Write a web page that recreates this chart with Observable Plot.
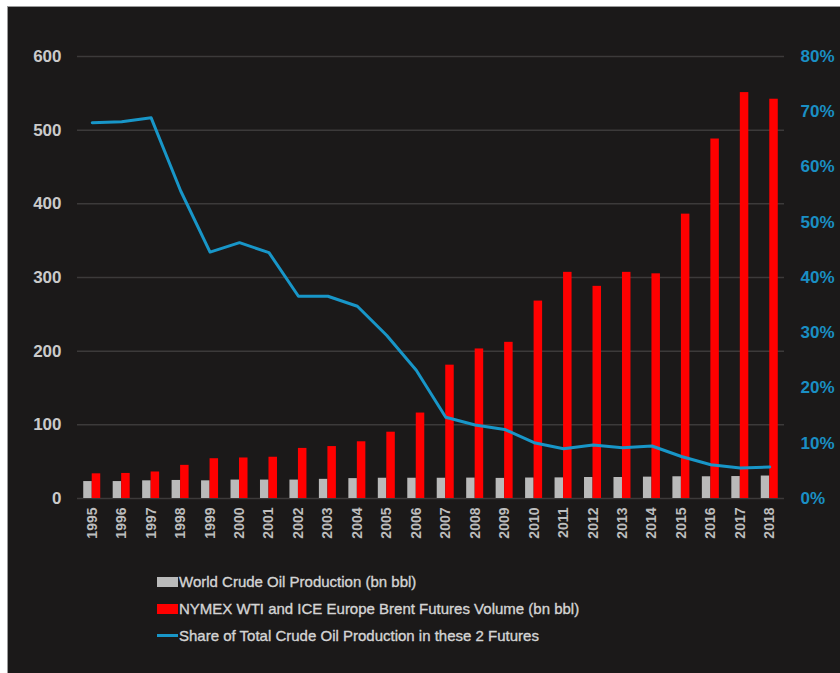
<!DOCTYPE html>
<html>
<head>
<meta charset="utf-8">
<script src="https://cdn.jsdelivr.net/npm/d3@7"></script>
<script src="https://cdn.jsdelivr.net/npm/@observablehq/plot@0.6"></script>
<style>
  html, body { margin: 0; padding: 0; background: #ffffff; width: 840px; height: 673px; overflow: hidden; }
  #frame { position: absolute; left: 7px; top: 6px; width: 833px; height: 667px; background: #1b1919;
           border-left: 1px solid #9a9a9a; border-top: 1px solid #9a9a9a; }
  #chart { position: absolute; left: 0; top: 0; }
  #legend { position: absolute; left: 149px; top: 561px; font-family: "Liberation Sans", Arial, sans-serif;
            font-size: 15px; color: #d4d4d4; -webkit-text-stroke: 0.35px #d4d4d4; }
  .row { height: 27px; display: flex; align-items: center; }
  .sw { width: 21px; margin-right: 1px; }
</style>
</head>
<body>
<div id="frame">
  <div id="chart"></div>
  <div id="legend"></div>
</div>
<script>
const years = ["1995","1996","1997","1998","1999","2000","2001","2002","2003","2004","2005","2006",
               "2007","2008","2009","2010","2011","2012","2013","2014","2015","2016","2017","2018"];
const production = [23, 23, 24, 24.5, 24, 25, 25, 25, 26, 27, 27.5, 27.5,
                    27.5, 27.7, 27.3, 27.8, 28, 28.5, 28.5, 29, 29.5, 29.5, 29.8, 30.5];
const futuresVolume = [33.5, 34, 36, 45, 54, 55, 56, 68, 70.5, 77, 90, 116,
                       181, 203, 212, 268, 307, 288, 307, 305, 386, 488, 551, 542];
const sharePct = [68.0, 68.2, 68.9, 55.7, 44.6, 46.3, 44.5, 36.6, 36.6, 34.8, 29.5, 23.2,
                  14.7, 13.3, 12.5, 10.1, 9.0, 9.7, 9.2, 9.5, 7.6, 6.1, 5.5, 5.7];
const leftTicks = [0, 100, 200, 300, 400, 500, 600];
const rightTicks = [0, 10, 20, 30, 40, 50, 60, 70, 80];
const seriesNames = ["World Crude Oil Production (bn bbl)",
                     "NYMEX WTI and ICE Europe Brent Futures Volume (bn bbl)",
                     "Share of Total Crude Oil Production in these 2 Futures"];
const seriesColors = ["#bababa", "#ff0000", "#1896c8"];

const leftMax = 600, rightMax = 80, k = leftMax / rightMax;
const rows = years.map((year, i) => ({year, production: production[i], futures: futuresVolume[i], share: sharePct[i]}));

const half = 707 / 24 / 2;
const barW = 8.5;

const chart = Plot.plot({
  width: 832,
  height: 545,
  marginLeft: 69,
  marginRight: 56,
  marginTop: 49,
  marginBottom: 54,
  style: {background: "transparent", color: "#c8c8c8", fontFamily: "'Liberation Sans', Arial, sans-serif", fontWeight: "bold"},
  x: {domain: years, padding: 0, round: false},
  y: {domain: [0, leftMax]},
  marks: [
    Plot.ruleY(leftTicks, {stroke: "#3c3a3a", strokeWidth: 1.5}),
    Plot.barY(rows, {x: "year", y: "production", fill: seriesColors[0], insetLeft: half - barW, insetRight: half}),
    Plot.barY(rows, {x: "year", y: "futures", fill: seriesColors[1], insetLeft: half, insetRight: half - barW}),
    Plot.line(rows, {x: "year", y: d => d.share * k, stroke: seriesColors[2], strokeWidth: 3, curve: "linear"}),
    Plot.axisY({anchor: "left", ticks: leftTicks, tickSize: 0, tickPadding: 16, fontSize: 17, label: null, color: "#cacaca"}),
    Plot.axisY({anchor: "right", ticks: rightTicks.map(t => t * k), tickFormat: d => Math.round(d / k) + "%",
                tickSize: 0, tickPadding: 16, fontSize: 17, label: null, color: "#1a8fc4"}),
    Plot.axisX({anchor: "bottom", tickRotate: -90, tickSize: 0, tickPadding: 9, fontSize: 14, label: null, color: "#bdbdbd"})
  ]
});
document.getElementById("chart").appendChild(chart);

const legend = document.getElementById("legend");
seriesNames.forEach((name, i) => {
  const row = document.createElement("div");
  row.className = "row";
  const sw = document.createElement("span");
  sw.className = "sw";
  sw.style.height = i === 2 ? "3px" : "10px";
  sw.style.background = seriesColors[i];
  const t = document.createElement("span");
  t.textContent = name;
  row.appendChild(sw);
  row.appendChild(t);
  legend.appendChild(row);
});
</script>
</body>
</html>
